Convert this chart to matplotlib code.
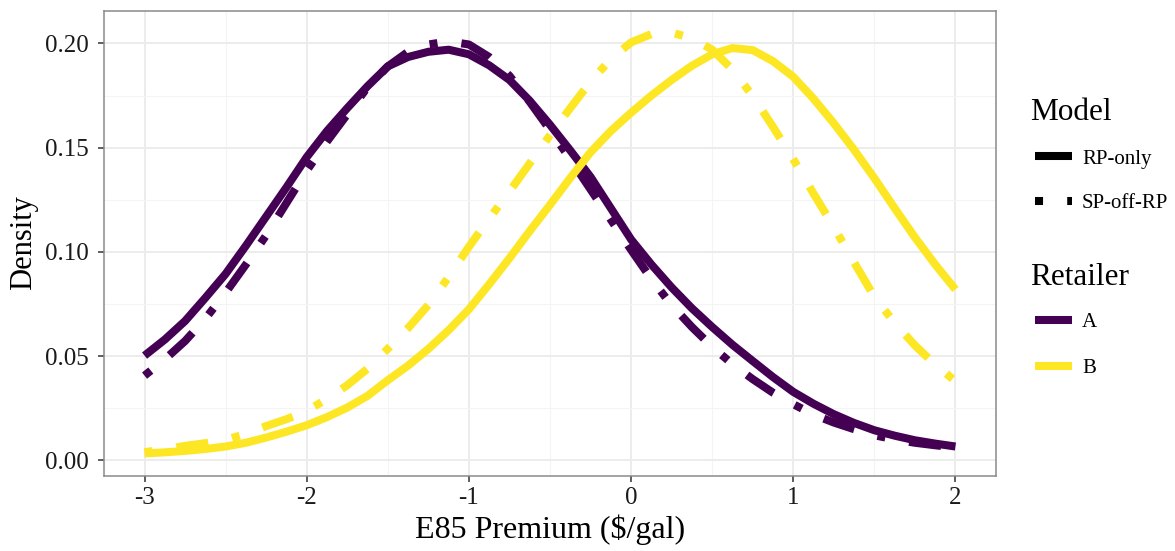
import matplotlib
matplotlib.use("Agg")
import matplotlib.pyplot as plt
from matplotlib.lines import Line2D

plt.rcParams['font.family'] = ['Liberation Serif', 'DejaVu Serif']

# ---- data (E85 premium, $/gal, step 0.125) ----
premium = [-3.0, -2.875, -2.75, -2.625, -2.5, -2.375, -2.25, -2.125, -2.0,
           -1.875, -1.75, -1.625, -1.5, -1.375, -1.25, -1.125, -1.0,
           -0.875, -0.75, -0.625, -0.5, -0.375, -0.25, -0.125, 0.0,
           0.125, 0.25, 0.375, 0.5, 0.625, 0.75, 0.875, 1.0,
           1.125, 1.25, 1.375, 1.5, 1.625, 1.75, 1.875, 2.0]

a_rp_only = [0.0503, 0.0580, 0.0669, 0.0780, 0.0895, 0.1030, 0.1170, 0.1310, 0.1455,
             0.1580, 0.1690, 0.1795, 0.1890, 0.1935, 0.1960, 0.1970, 0.1948,
             0.1895, 0.1825, 0.1725, 0.1610, 0.1487, 0.1360, 0.1210, 0.1060,
             0.0940, 0.0830, 0.0730, 0.0640, 0.0555, 0.0477, 0.0400, 0.0329,
             0.0272, 0.0222, 0.0180, 0.0145, 0.0119, 0.0097, 0.0081, 0.0067]
a_sp_off_rp = [0.0407, 0.0485, 0.0573, 0.0680, 0.0805, 0.0940, 0.1080, 0.1235, 0.1390,
               0.1530, 0.1660, 0.1790, 0.1890, 0.1960, 0.1995, 0.2010, 0.1995,
               0.1935, 0.1845, 0.1720, 0.1585, 0.1445, 0.1300, 0.1155, 0.1010,
               0.0870, 0.0745, 0.0640, 0.0545, 0.0462, 0.0390, 0.0325, 0.0270,
               0.0220, 0.0182, 0.0150, 0.0121, 0.0101, 0.0085, 0.0073, 0.0062]
b_rp_only = [0.0034, 0.0039, 0.0046, 0.0055, 0.0067, 0.0085, 0.0110, 0.0138, 0.0169,
             0.0208, 0.0254, 0.0310, 0.0385, 0.0455, 0.0535, 0.0625, 0.0725,
             0.0845, 0.0970, 0.1100, 0.1226, 0.1355, 0.1478, 0.1580, 0.1668,
             0.1750, 0.1825, 0.1893, 0.1948, 0.1978, 0.1968, 0.1915, 0.1840,
             0.1735, 0.1617, 0.1490, 0.1354, 0.1210, 0.1070, 0.0940, 0.0820]
b_sp_off_rp = [0.0040, 0.0053, 0.0070, 0.0083, 0.0099, 0.0128, 0.0165, 0.0198, 0.0238,
               0.0295, 0.0361, 0.0440, 0.0536, 0.0635, 0.0746, 0.0880, 0.1025,
               0.1160, 0.1290, 0.1425, 0.1560, 0.1690, 0.1817, 0.1925, 0.2005,
               0.2045, 0.2052, 0.2025, 0.1970, 0.1875, 0.1748, 0.1600, 0.1445,
               0.1280, 0.1120, 0.0950, 0.0785, 0.0660, 0.0552, 0.0460, 0.0380]

x_ticks = [-3, -2, -1, 0, 1, 2]
x_tick_labels = ['-3', '-2', '-1', '0', '1', '2']
y_ticks = [0.00, 0.05, 0.10, 0.15, 0.20]
y_tick_labels = ['0.00', '0.05', '0.10', '0.15', '0.20']

retailer_colors = {'A': '#440154', 'B': '#FDE725'}
model_styles = {'RP-only': '-', 'SP-off-RP': (0, (1, 3, 4, 3))}

W, H = 1175, 551
fig = plt.figure(figsize=(W / 100, H / 100), dpi=100)
ax = fig.add_axes([104 / W, 1 - 475.5 / H, (996 - 104) / W, (475.5 - 10.5) / H])

LW = 5.8
series = [
    (a_rp_only, 'A', 'RP-only'),
    (a_sp_off_rp, 'A', 'SP-off-RP'),
    (b_rp_only, 'B', 'RP-only'),
    (b_sp_off_rp, 'B', 'SP-off-RP'),
]
for vals, ret, mod in series:
    ax.plot(premium, vals, color=retailer_colors[ret], linestyle=model_styles[mod],
            linewidth=LW, dash_capstyle='butt', solid_capstyle='butt',
            solid_joinstyle='round', dash_joinstyle='round', zorder=3)

ax.set_xlim(-3.25, 2.25)
ax.set_ylim(-0.0072, 0.2158)
ax.set_xticks(x_ticks)
ax.set_xticklabels(x_tick_labels)
ax.set_yticks(y_ticks)
ax.set_yticklabels(y_tick_labels)
ax.set_xticks([-2.5, -1.5, -0.5, 0.5, 1.5], minor=True)
ax.set_yticks([0.025, 0.075, 0.125, 0.175], minor=True)
ax.grid(which='major', color='#EBEBEB', linewidth=1.3, zorder=0)
ax.grid(which='minor', color='#F4F4F4', linewidth=0.8, zorder=0)
ax.set_axisbelow(True)
ax.tick_params(which='major', direction='out', length=4.5, width=1.1, color='#333333',
               labelsize=18, labelcolor='#1a1a1a', pad=4)
ax.tick_params(axis='y', which='major', pad=6.5)
ax.tick_params(which='minor', length=0)
for s in ax.spines.values():
    s.set_color('#8a8a8a')
    s.set_linewidth(1.1)

ax.set_xlabel('E85 Premium ($/gal)', fontsize=23, labelpad=4)
ax.set_ylabel('Density', fontsize=22, labelpad=5)

# ---- legends ----
def fx(px):
    return px / W

def fy(py):
    return 1 - py / H

fig.text(fx(1030), fy(120.5), 'Model', fontsize=22.5, va='baseline', ha='left')
legend_model = [('RP-only', 164, 156), ('SP-off-RP', 208, 201)]
for lab, base, ky in legend_model:
    fig.add_artist(Line2D([fx(1035), fx(1072)], [fy(ky), fy(ky)], color='black',
                          linewidth=LW, linestyle=model_styles[lab],
                          dash_capstyle='butt', solid_capstyle='butt'))
    fig.text(fx(1082), fy(base), lab, fontsize=15, va='baseline', ha='left')

fig.text(fx(1030), fy(285), 'Retailer', fontsize=22.5, va='baseline', ha='left')
legend_ret = [('A', 327, 320), ('B', 373, 366)]
for lab, base, ky in legend_ret:
    fig.add_artist(Line2D([fx(1035), fx(1072)], [fy(ky), fy(ky)],
                          color=retailer_colors[lab], linewidth=LW,
                          solid_capstyle='butt'))
    fig.text(fx(1082), fy(base), lab, fontsize=15, va='baseline', ha='left')

fig.savefig('out.png', dpi=100)
